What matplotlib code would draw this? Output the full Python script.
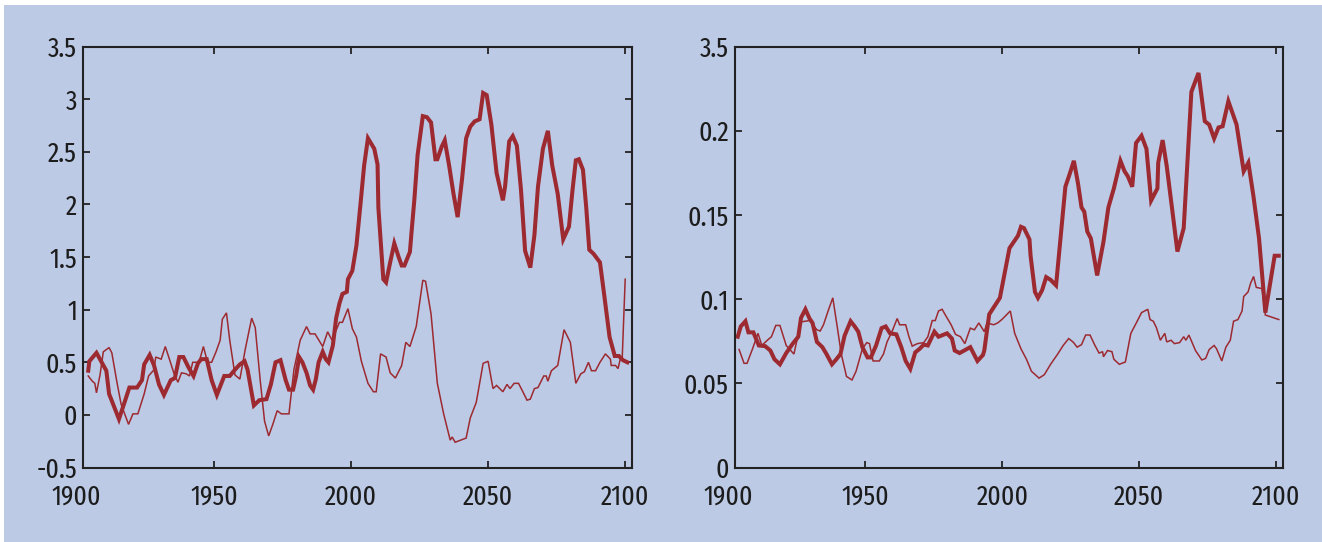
import matplotlib
matplotlib.use("Agg")
import matplotlib.pyplot as plt
from matplotlib.patches import Rectangle
import matplotlib.transforms as mtransforms

# ---------------- data ----------------
left_thick_years = [1904.2, 1904.6, 1907.2, 1910.8, 1911.8, 1915.4, 1917.7, 1919.2, 1922, 1923.8,
    1924.6, 1926.6, 1928.2, 1930, 1931.8, 1934.3, 1935.8, 1937.4, 1938.9, 1940.8,
    1942.6, 1944.2, 1945.4, 1947.4, 1949.2, 1951.1, 1953.8, 1955.8, 1957.7, 1959.5,
    1961.2, 1962.3, 1964.6, 1966.6, 1969.2, 1970.8, 1972.5, 1974.3, 1976.2, 1977.4,
    1978.9, 1980, 1981.1, 1982.3, 1983.8, 1985.1, 1986.2, 1987.2, 1988.2, 1989.7,
    1990.8, 1991.8, 1993.4, 1994.6, 1995.8, 1996.9, 1998.5, 1998.9, 2000.5, 2002,
    2003.5, 2004.8, 2006.2, 2008.5, 2009.7, 2010, 2011.8, 2012.8, 2014.3, 2015.8,
    2017.4, 2018.5, 2019.5, 2021.5, 2022, 2023.1, 2024.3, 2026.2, 2027.7, 2029.2,
    2030.8, 2031.5, 2033.1, 2034.2, 2035.8, 2037.4, 2038.9, 2040.5, 2042, 2043.5,
    2045.1, 2046.9, 2048.2, 2049.5, 2051.2, 2053.1, 2055.4, 2056.2, 2057.7, 2059,
    2060.5, 2062, 2063.5, 2065.4, 2066.9, 2068.2, 2070, 2071.8, 2073.4, 2075.4,
    2077.4, 2079.5, 2080.8, 2082, 2083.1, 2084.6, 2085.8, 2086.9, 2088.5, 2090.8,
    2092.3, 2094.3, 2096.2, 2097.7, 2099.2, 2100.8]
left_thick_values = [0.42, 0.51, 0.59, 0.42, 0.20, -0.04, 0.14, 0.26, 0.26, 0.33,
    0.48, 0.57, 0.47, 0.29, 0.19, 0.33, 0.35, 0.55, 0.55, 0.45,
    0.37, 0.49, 0.53, 0.53, 0.33, 0.19, 0.37, 0.37, 0.43, 0.48,
    0.51, 0.43, 0.09, 0.14, 0.15, 0.29, 0.50, 0.52, 0.33, 0.24,
    0.24, 0.37, 0.55, 0.50, 0.40, 0.28, 0.24, 0.34, 0.50, 0.60,
    0.53, 0.50, 0.66, 0.92, 1.06, 1.15, 1.17, 1.29, 1.37, 1.61,
    2.01, 2.37, 2.63, 2.53, 2.38, 1.97, 1.29, 1.26, 1.45, 1.63,
    1.50, 1.42, 1.42, 1.55, 1.71, 2.04, 2.47, 2.84, 2.83, 2.78,
    2.43, 2.43, 2.55, 2.61, 2.37, 2.10, 1.88, 2.24, 2.63, 2.74,
    2.79, 2.81, 3.06, 3.04, 2.76, 2.30, 2.04, 2.17, 2.60, 2.65,
    2.56, 2.14, 1.56, 1.40, 1.71, 2.17, 2.53, 2.70, 2.37, 2.10,
    1.67, 1.79, 2.14, 2.42, 2.43, 2.33, 1.97, 1.57, 1.53, 1.45,
    1.15, 0.74, 0.56, 0.56, 0.52, 0.50]

left_thin_years = [1904.2, 1905.7, 1906.6, 1907.2, 1908.5, 1909.7, 1911.8, 1912.8, 1914.6, 1916.2,
    1918.9, 1920.5, 1922.3, 1924.6, 1926.2, 1928.2, 1928.8, 1930.8, 1932.3, 1933.8,
    1935.4, 1936.9, 1938.2, 1940, 1941.1, 1942.3, 1944.6, 1946.2, 1947.7, 1949.2,
    1950.8, 1952.3, 1953.1, 1954.6, 1955.8, 1957.7, 1959.5, 1961.5, 1963.8, 1965.1,
    1966.9, 1968.5, 1970, 1971.5, 1973.1, 1974.6, 1977.4, 1979.2, 1981.5, 1983.8,
    1985.1, 1986.9, 1989.7, 1991.5, 1993.1, 1995.8, 1996.9, 1998.9, 2000.5, 2002,
    2003.8, 2006.2, 2008.2, 2009.2, 2010.8, 2012.8, 2014.3, 2016.2, 2018.5, 2020,
    2021.5, 2023.8, 2026.2, 2027.2, 2029.2, 2031.5, 2033.8, 2036.2, 2036.9, 2038,
    2040, 2042, 2043.5, 2045.7, 2048.2, 2050, 2051.8, 2053.1, 2055.4, 2056.9,
    2058, 2059.5, 2061.1, 2062.3, 2064.2, 2065.4, 2066.9, 2068.2, 2070.3, 2071.2,
    2071.8, 2073.1, 2075.4, 2077.7, 2080, 2082, 2083.8, 2085.1, 2086.6, 2087.7,
    2089.2, 2090.8, 2092.8, 2094.6, 2094.9, 2096.5, 2097.4, 2098.2, 2098.9, 2100]
left_thin_values = [0.37, 0.32, 0.30, 0.21, 0.38, 0.60, 0.64, 0.59, 0.32, 0.10,
    -0.09, 0.01, 0.01, 0.20, 0.37, 0.43, 0.55, 0.53, 0.65, 0.53,
    0.40, 0.31, 0.40, 0.39, 0.37, 0.50, 0.50, 0.65, 0.50, 0.50,
    0.60, 0.71, 0.91, 0.97, 0.71, 0.38, 0.34, 0.63, 0.92, 0.83,
    0.33, -0.06, -0.20, -0.09, 0.04, 0.01, 0.01, 0.43, 0.71, 0.84,
    0.77, 0.77, 0.65, 0.79, 0.71, 0.88, 0.88, 1.01, 0.82, 0.74,
    0.51, 0.30, 0.22, 0.22, 0.58, 0.55, 0.40, 0.35, 0.47, 0.69,
    0.65, 0.84, 1.28, 1.27, 0.96, 0.30, 0.01, -0.24, -0.21, -0.26,
    -0.24, -0.22, -0.03, 0.12, 0.49, 0.51, 0.25, 0.28, 0.22, 0.29,
    0.25, 0.30, 0.30, 0.24, 0.14, 0.15, 0.25, 0.26, 0.37, 0.37,
    0.32, 0.42, 0.47, 0.81, 0.69, 0.30, 0.39, 0.41, 0.50, 0.42,
    0.42, 0.50, 0.58, 0.53, 0.47, 0.47, 0.44, 0.53, 0.53, 1.29]

right_thick_years = [1903.4, 1904.5, 1906.2, 1907.3, 1909.1, 1910.3, 1911.1, 1913.4, 1915.3, 1916.8,
    1918.8, 1921.1, 1923.5, 1925.5, 1926.5, 1928.1, 1929.6, 1930.7, 1932.3, 1934.3,
    1935.8, 1937.8, 1939.4, 1940.9, 1942.4, 1944.6, 1946.1, 1947.4, 1948.9, 1950.8,
    1952, 1953.9, 1955.9, 1957.4, 1959, 1961.3, 1963.1, 1964.7, 1966.4, 1968.2,
    1969.8, 1971.3, 1972.8, 1975.2, 1976.7, 1979.8, 1981.6, 1982.6, 1984.4, 1988.3,
    1990.9, 1992.9, 1993.4, 1995.2, 1999.1, 2002.6, 2005.7, 2006.8, 2007.9, 2009.9,
    2010.3, 2011.9, 2013, 2014.5, 2016, 2017.6, 2019.6, 2021.1, 2023, 2024.5,
    2026.1, 2027.6, 2028.9, 2029.9, 2031, 2032.3, 2034.6, 2036.9, 2038.7, 2040.7,
    2043.1, 2044.6, 2045.8, 2047.4, 2048.8, 2050.8, 2052.6, 2054.3, 2056.6, 2056.9,
    2058.5, 2060, 2061.9, 2063.9, 2066.2, 2069, 2071.6, 2073.9, 2075.5, 2077.3,
    2078.9, 2080.4, 2082.5, 2085.5, 2088.1, 2089.8, 2091.7, 2093.7, 2096, 2099.4,
    2100.9]
right_thick_values = [0.0777, 0.0838, 0.0869, 0.0803, 0.0803, 0.0756, 0.0725, 0.0721, 0.0695, 0.0643,
    0.0613, 0.0680, 0.0736, 0.0777, 0.0889, 0.0940, 0.0885, 0.0859, 0.0746, 0.0715,
    0.0674, 0.0613, 0.0643, 0.0674, 0.0783, 0.0869, 0.0838, 0.0807, 0.0715, 0.0654,
    0.0654, 0.0725, 0.0828, 0.0838, 0.0797, 0.0791, 0.0715, 0.0633, 0.0586, 0.0684,
    0.0705, 0.0730, 0.0725, 0.0807, 0.0777, 0.0797, 0.0766, 0.0695, 0.0680, 0.0715,
    0.0633, 0.0668, 0.0695, 0.0910, 0.1008, 0.1303, 0.1377, 0.1430, 0.1422, 0.1355,
    0.1258, 0.1043, 0.1008, 0.1053, 0.1131, 0.1115, 0.1082, 0.1340, 0.1668, 0.1740,
    0.1822, 0.1689, 0.1545, 0.1520, 0.1402, 0.1361, 0.1141, 0.1340, 0.1545, 0.1658,
    0.1822, 0.1760, 0.1730, 0.1668, 0.1928, 0.1971, 0.1893, 0.1586, 0.1658, 0.1811,
    0.1945, 0.1791, 0.1545, 0.1283, 0.1422, 0.2232, 0.2344, 0.2057, 0.2037, 0.1955,
    0.2020, 0.2027, 0.2176, 0.2037, 0.1760, 0.1811, 0.1607, 0.1361, 0.0920, 0.1258,
    0.1258]

right_thin_years = [1903.9, 1905.7, 1906.8, 1908.8, 1910.8, 1912.2, 1914.2, 1915.7, 1917.3, 1918.8,
    1921.1, 1923.9, 1926.5, 1929.6, 1932.3, 1933.5, 1934.7, 1936.6, 1938.1, 1939.7,
    1941.2, 1943.1, 1945.1, 1946.6, 1948.9, 1950.5, 1951.5, 1952.8, 1955.1, 1956.6,
    1957.9, 1959.7, 1961.6, 1962.5, 1964.7, 1965.9, 1967.1, 1969, 1971.3, 1972.8,
    1974.4, 1975.5, 1976.7, 1978, 1979.8, 1981.3, 1982.9, 1984.7, 1986.3, 1988.3,
    1989.8, 1991.4, 1993.4, 1994.4, 1996.8, 1998.3, 1999.8, 2001.1, 2002.9, 2004.5,
    2006.8, 2008.8, 2010.6, 2013.4, 2015.3, 2017.6, 2020.2, 2022.2, 2024.2, 2025.8,
    2027.3, 2028.9, 2030.4, 2032, 2033.8, 2035.3, 2036.6, 2036.9, 2038.4, 2040,
    2040.7, 2042.7, 2044.9, 2046.9, 2048.9, 2050.8, 2053.1, 2053.9, 2055.1, 2056.2,
    2057.7, 2058.5, 2059.3, 2060, 2061.6, 2062.8, 2064.7, 2066.2, 2067, 2068.1,
    2070.5, 2072.8, 2074.2, 2075.5, 2077.3, 2078.2, 2080.1, 2081.6, 2083.2, 2084.4,
    2086, 2087.5, 2088.1, 2089.7, 2090.6, 2091.7, 2092.7, 2094.8, 2096, 2100.9]
right_thin_values = [0.0701, 0.0619, 0.0619, 0.0705, 0.0797, 0.0725, 0.0756, 0.0777, 0.0844, 0.0844,
    0.0725, 0.0674, 0.0865, 0.0873, 0.0818, 0.0811, 0.0848, 0.0940, 0.1008, 0.0838,
    0.0674, 0.0541, 0.0520, 0.0572, 0.0705, 0.0742, 0.0736, 0.0633, 0.0633, 0.0674,
    0.0746, 0.0807, 0.0885, 0.0848, 0.0848, 0.0777, 0.0721, 0.0736, 0.0742, 0.0777,
    0.0873, 0.0873, 0.0930, 0.0940, 0.0889, 0.0848, 0.0791, 0.0777, 0.0736, 0.0828,
    0.0818, 0.0859, 0.0807, 0.0859, 0.0848, 0.0859, 0.0879, 0.0900, 0.0930, 0.0797,
    0.0705, 0.0643, 0.0572, 0.0531, 0.0551, 0.0613, 0.0674, 0.0725, 0.0766, 0.0746,
    0.0715, 0.0730, 0.0787, 0.0787, 0.0725, 0.0680, 0.0688, 0.0658, 0.0695, 0.0688,
    0.0643, 0.0613, 0.0627, 0.0797, 0.0859, 0.0920, 0.0940, 0.0879, 0.0869, 0.0832,
    0.0756, 0.0777, 0.0797, 0.0746, 0.0756, 0.0736, 0.0742, 0.0777, 0.0756, 0.0787,
    0.0695, 0.0639, 0.0648, 0.0701, 0.0725, 0.0705, 0.0633, 0.0715, 0.0756, 0.0869,
    0.0879, 0.0930, 0.1016, 0.1043, 0.1094, 0.1135, 0.1070, 0.1063, 0.0906, 0.0879]

x_tick_years = [1900, 1950, 2000, 2050, 2100]
left_yticks = [-0.5, 0, 0.5, 1, 1.5, 2, 2.5, 3, 3.5]
left_ylabels = ["-0.5", "0", "0.5", "1", "1.5", "2", "2.5", "3", "3.5"]
right_yticks = [0, 0.05, 0.1, 0.15, 0.2, 0.25]
right_ylabels = ["0", "0.05", "0.1", "0.15", "0.2", "3.5"]

# ---------------- style ----------------
BG = "#bccae6"
LINE = "#9d2a30"
SPINE = "#222222"
TXT = "#1c1c1c"
FONT = ["Fira Sans Extra Condensed", "Fira Sans Condensed", "DejaVu Sans"]
FS = 20
FW = 400
XPAD = 11.5
YPAD = 4.5
XLIM = (1902.4, 2102.3)

W, H = 1322, 542
fig = plt.figure(figsize=(W / 100, H / 100), dpi=100)
fig.patch.set_facecolor("white")
fig.patches.append(Rectangle((4 / W, 0), 1 - 4 / W, 1 - 5 / H, transform=fig.transFigure,
                             facecolor=BG, edgecolor="none", zorder=-10))

def make_axes(rect, thick_x, thick_y, thin_x, thin_y, ylim, yticks, ylabels):
    ax = fig.add_axes(rect)
    ax.set_facecolor("none")
    ax.plot(thin_x, thin_y, color=LINE, lw=1.1, solid_joinstyle="miter", clip_on=False)
    ax.plot(thick_x, thick_y, color=LINE, lw=2.9, solid_joinstyle="miter", clip_on=False)
    ax.set_xlim(*XLIM)
    ax.set_ylim(*ylim)
    inner = [t for t in x_tick_years if XLIM[0] <= t <= XLIM[1]]
    ax.set_xticks(inner)
    ax.set_xticklabels([str(t) for t in inner])
    ax.set_yticks(yticks)
    ax.set_yticklabels(ylabels)
    for s in ax.spines.values():
        s.set_color(SPINE)
        s.set_linewidth(1.5)
    ax.tick_params(direction="in", length=5, width=1.3, color=SPINE,
                   top=True, right=True, labelsize=FS, labelcolor=TXT)
    ax.tick_params(axis="x", pad=XPAD)
    ax.tick_params(axis="y", pad=YPAD)
    for lab in ax.get_xticklabels() + ax.get_yticklabels():
        lab.set_family(FONT)
        lab.set_fontweight(FW)
    # outer year labels lying just outside the plotting range
    trans = ax.get_xaxis_transform() + mtransforms.ScaledTranslation(0, -XPAD / 72, fig.dpi_scale_trans)
    for t in x_tick_years:
        if not (XLIM[0] <= t <= XLIM[1]):
            ax.text(t, 0, str(t), transform=trans, ha="center", va="top",
                    fontsize=FS, family=FONT, fontweight=FW, color=TXT, clip_on=False)
    return ax

make_axes([83.3 / W, 1 - 467.5 / H, (631.5 - 83.3) / W, (467.5 - 46.7) / H],
          left_thick_years, left_thick_values, left_thin_years, left_thin_values,
          (-0.5, 3.5), left_yticks, left_ylabels)
make_axes([735 / W, 1 - 467.5 / H, (1282.6 - 735) / W, (467.5 - 46.7) / H],
          right_thick_years, right_thick_values, right_thin_years, right_thin_values,
          (0, 0.25), right_yticks, right_ylabels)

fig.savefig("out.png", dpi=100, facecolor=fig.get_facecolor())
